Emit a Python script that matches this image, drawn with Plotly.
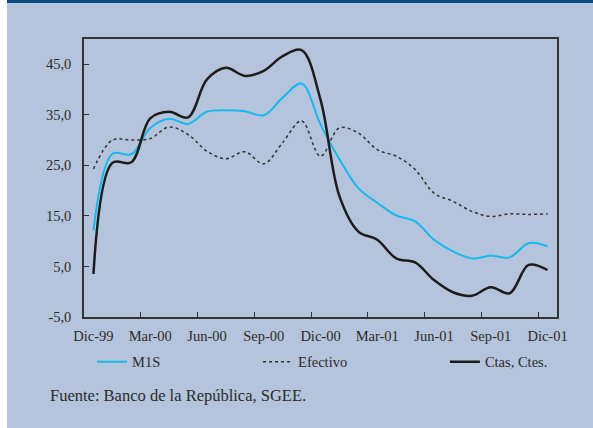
import plotly.graph_objs as go

# monthly data, Dec-99 .. Dec-01 (annual growth, %)
months = ['Dic-99', 'Ene-00', 'Feb-00', 'Mar-00', 'Abr-00', 'May-00', 'Jun-00',
          'Jul-00', 'Ago-00', 'Sep-00', 'Oct-00', 'Nov-00', 'Dic-00',
          'Ene-01', 'Feb-01', 'Mar-01', 'Abr-01', 'May-01', 'Jun-01',
          'Jul-01', 'Ago-01', 'Sep-01', 'Oct-01', 'Nov-01', 'Dic-01']

m1s = [12.1, 27.3, 27.2, 32.4, 34.2, 33.2, 35.6, 35.9, 35.7, 34.9, 38.4, 41.2, 33.1,
       26.2, 20.5, 17.6, 15.1, 13.9, 10.3, 8.0, 6.6, 7.1, 6.8, 9.6, 9.0]

efectivo = [24.3, 30.0, 30.0, 30.3, 32.6, 31.1, 27.8, 26.3, 27.7, 25.3, 29.5, 33.8, 26.8,
            32.4, 31.4, 28.1, 26.8, 24.2, 19.5, 17.9, 15.9, 14.9, 15.4, 15.3, 15.4]

ctas = [3.5, 25.5, 25.6, 34.3, 35.6, 34.5, 42.0, 44.3, 42.7, 43.7, 46.6, 47.8, 38.0,
        18.9, 11.9, 10.3, 6.6, 5.8, 2.3, -0.1, -0.8, 0.9, -0.3, 5.3, 4.3]

x_tick_labels = months[::3]
y_ticks = [-5, 5, 15, 25, 35, 45]
y_tick_labels = ['-5,0', '5,0', '15,0', '25,0', '35,0', '45,0']

bg = '#b4c4dc'
txt = '#2b2b2b'
font = 'Liberation Serif, Times New Roman, serif'

fig = go.Figure()
fig.add_trace(go.Scatter(x=months, y=m1s, name='M1S', mode='lines',
                         line=dict(color='#16b9ee', width=2, shape='spline'),
                         legend='legend', showlegend=True))
fig.add_trace(go.Scatter(x=months, y=efectivo, name='Efectivo', mode='lines',
                         line=dict(color='#333333', width=1.5, dash='dot', shape='spline'),
                         legend='legend2', showlegend=True))
fig.add_trace(go.Scatter(x=months, y=ctas, name='Ctas, Ctes.', mode='lines',
                         line=dict(color='#1c1c1c', width=2.5, shape='spline'),
                         legend='legend3', showlegend=True))

leg = dict(orientation='h', yanchor='middle', y=-0.161, xanchor='left',
           bgcolor='rgba(0,0,0,0)', font=dict(family=font, size=14.5, color=txt),
           itemwidth=30)

fig.update_layout(
    width=593, height=428,
    margin=dict(l=84, r=36, t=39, b=111),
    paper_bgcolor=bg, plot_bgcolor=bg,
    showlegend=True,
    font=dict(family=font, size=14.5, color=txt),
    legend=dict(leg, x=0.017),
    legend2=dict(leg, x=0.368),
    legend3=dict(leg, x=0.763),
    xaxis=dict(type='category', tickmode='array', tickvals=x_tick_labels, ticktext=x_tick_labels,
               tickson='boundaries', ticks='inside', ticklen=5, tickcolor='#333333',
               ticklabelstandoff=5,
               showline=True, linecolor='#333333', linewidth=1.5, mirror=True,
               showgrid=False, zeroline=False, range=[-0.5, 24.5], tickangle=0),
    yaxis=dict(range=[-5, 50], tickmode='array', tickvals=y_ticks, ticktext=y_tick_labels,
               ticks='inside', ticklen=5, tickcolor='#333333', ticklabelstandoff=8,
               showline=True, linecolor='#333333', linewidth=1.5, mirror=True,
               showgrid=False, zeroline=False),
    shapes=[
        # white strip on the left edge
        dict(type='rect', xref='paper', yref='paper', x0=-0.19, x1=-0.1628, y0=-0.5, y1=1.2,
             fillcolor='white', line=dict(width=0), layer='below'),
        # dark blue band on top
        dict(type='rect', xref='paper', yref='paper', x0=-0.1628, x1=1.1, y0=1.1295, y1=1.16,
             fillcolor='#0a4a80', line=dict(width=0), layer='below'),
    ],
    annotations=[
        dict(text='Fuente: Banco de la República, SGEE.', xref='paper', yref='paper',
             x=-0.0761, y=-0.2806, xanchor='left', yanchor='middle', showarrow=False,
             font=dict(family=font, size=16.5, color=txt)),
    ],
)

fig.write_html('out.html', config={'displayModeBar': False},
               post_script="document.body.style.margin='0';document.body.style.overflow='hidden';")
